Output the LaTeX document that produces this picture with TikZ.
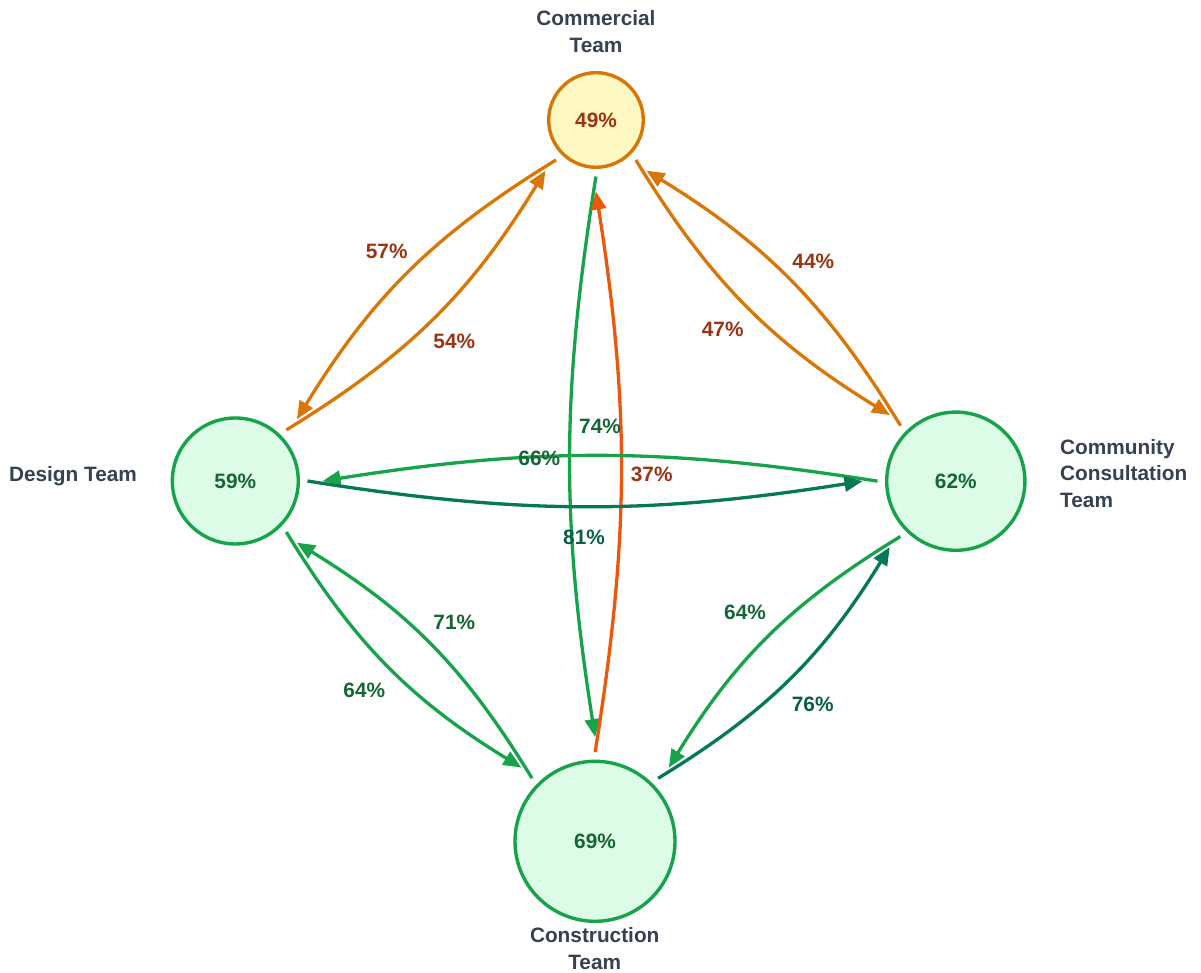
\documentclass[tikz,border=0pt]{standalone}
\usepackage{fontspec}
\setmainfont{Liberation Sans}
\usetikzlibrary{arrows.meta,calc}
\definecolor{ComFill}{HTML}{FEF9C3}
\definecolor{OrangeEdge}{HTML}{D97706}
\definecolor{RedOrange}{HTML}{EA580C}
\definecolor{GreenEdge}{HTML}{16A34A}
\definecolor{TealEdge}{HTML}{047857}
\definecolor{GreenFill}{HTML}{DCFCE7}
\definecolor{OrangeText}{HTML}{9A3412}
\definecolor{GreenText}{HTML}{166534}
\definecolor{TealText}{HTML}{065F46}
\definecolor{TitleGray}{HTML}{374151}
\begin{document}
\begin{tikzpicture}[x=1pt,y=1pt,
  every node/.style={font=\fontsize{20.8}{26.5}\selectfont\bfseries},
  cnode/.style={circle, draw=OrangeEdge, fill=ComFill, line width=3.4pt, inner sep=0pt, text=OrangeText},
  gnode/.style={circle, draw=GreenEdge, fill=GreenFill, line width=3.4pt, inner sep=0pt, text=GreenText},
  title/.style={text=TitleGray, align=center, inner sep=0pt},
  edge/.style={line width=3.3pt, -{Triangle[length=18pt,width=15pt]}},
  oedge/.style={edge, draw=OrangeEdge},
  redge/.style={edge, draw=RedOrange},
  gedge/.style={edge, draw=GreenEdge},
  tedge/.style={edge, draw=TealEdge},
  olab/.style={text=OrangeText, inner sep=0pt},
  glab/.style={text=GreenText, inner sep=0pt},
  tlab/.style={text=TealText, inner sep=0pt}]
\fill[white] (0,0) rectangle (1201,973);
\useasboundingbox (0,0) rectangle (1201,973);

% nodes
\node[cnode, minimum size=94.6pt] (com) at (596,853) {\raisebox{-2pt}{49\%}};
\node[gnode, minimum size=126pt] (des) at (235.3,492) {59\%};
\node[gnode, minimum size=138.2pt] (comm) at (955.8,491.8) {62\%};
\node[gnode, minimum size=160pt] (con) at (595,131.7) {69\%};

% titles
\node[title] (tcom) at (596,941.5) {Commercial\\Team};
\node[title] (tdes) at (73,497) {Design Team};
\node[title, align=left, anchor=west] (tcomm) at (1060,499.7) {Community\\Consultation\\Team};
\node[title] (tcon) at (594.7,24.5) {Construction\\Team};

% edges
\draw[oedge] ($(com)!56.5pt!(des)$) to[bend right=13.5] ($(des)!87.2pt!(com)$);
\draw[oedge] ($(des)!72.2pt!(com)$) to[bend right=13.5] ($(com)!71.5pt!(des)$);
\draw[oedge] ($(com)!56.5pt!(comm)$) to[bend right=13.5] ($(comm)!93.3pt!(com)$);
\draw[oedge] ($(comm)!78.3pt!(com)$) to[bend right=13.5] ($(com)!71.5pt!(comm)$);
\draw[gedge] ($(com)!56.5pt!(con)$) to[bend right=9] ($(con)!104.2pt!(com)$);
\draw[redge] ($(con)!89.2pt!(com)$) to[bend right=9] ($(com)!71.5pt!(con)$);
\draw[gedge] ($(comm)!78.3pt!(des)$) to[bend right=9] ($(des)!87.2pt!(comm)$);
\draw[tedge] ($(des)!72.2pt!(comm)$) to[bend right=9] ($(comm)!93.3pt!(des)$);
\draw[gedge] ($(des)!72.2pt!(con)$) to[bend right=13.5] ($(con)!104.2pt!(des)$);
\draw[gedge] ($(con)!89.2pt!(des)$) to[bend right=13.5] ($(des)!87.2pt!(con)$);
\draw[gedge] ($(comm)!78.3pt!(con)$) to[bend right=13.5] ($(con)!104.2pt!(comm)$);
\draw[tedge] ($(con)!89.2pt!(comm)$) to[bend right=13.5] ($(comm)!93.3pt!(con)$);

% edge labels
\node[olab] (l57) at (386.7,721.3) {57\%};
\node[olab] (l54) at (454.3,631.3) {54\%};
\node[olab] (l47) at (722.7,643.7) {47\%};
\node[olab] (l44) at (813.3,711.3) {44\%};
\node[glab] (l74) at (600,547) {74\%};
\node[olab] (l37) at (651.7,499) {37\%};
\node[glab] (l66) at (539.3,514.7) {66\%};
\node[tlab] (l81) at (584,435.7) {81\%};
\node[glab] (l71) at (454.3,350.3) {71\%};
\node[glab] (l64a) at (364.3,282.3) {64\%};
\node[glab] (l64b) at (745,360.3) {64\%};
\node[tlab] (l76) at (812.7,268.7) {76\%};
\end{tikzpicture}
\end{document}
